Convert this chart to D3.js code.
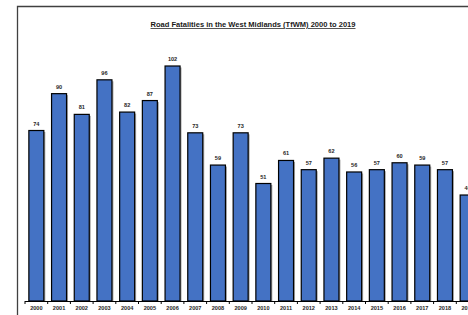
<!DOCTYPE html>
<html>
<head>
<meta charset="utf-8">
<script src="https://cdn.jsdelivr.net/npm/d3@7"></script>
<style>
  body { margin: 0; background: #fff; }
  svg { display: block; font-family: "Liberation Sans", Arial, sans-serif; }
</style>
</head>
<body>
<div id="chart"></div>
<script>
var svgWidth = 468;
var svgHeight = 315;

// Chart data
var years = ["2000", "2001", "2002", "2003", "2004", "2005", "2006", "2007", "2008", "2009",
             "2010", "2011", "2012", "2013", "2014", "2015", "2016", "2017", "2018", "2019"];
var fatalities = [74, 90, 81, 96, 82, 87, 102, 73, 59, 73, 51, 61, 57, 62, 56, 57, 60, 59, 57, 46];

var chartTitle = "Road Fatalities in the West Midlands (TfWM) 2000 to 2019";

// plot area (runs off the right edge like the reference)
var plotLeft = 25;
var plotRight = 25 + 22.7 * years.length;
var baseY = 301;

var svg = d3.select("#chart")
  .append("svg")
  .attr("width", svgWidth)
  .attr("height", svgHeight);

// Chart border (only left and top visible)
svg.append("path")
  .attr("d", "M17.5,330 L17.5,6.5 L480,6.5")
  .attr("fill", "none")
  .attr("stroke", "#404040")
  .attr("stroke-width", 1.3);

// Title
svg.append("text")
  .attr("x", 253)
  .attr("y", 27)
  .attr("text-anchor", "middle")
  .attr("font-size", "7.4px")
  .attr("font-weight", "bold")
  .attr("text-decoration", "underline")
  .attr("textLength", 205)
  .attr("lengthAdjust", "spacingAndGlyphs")
  .attr("fill", "#1a1a1a")
  .text(chartTitle);

var x = d3.scaleBand()
  .domain(years)
  .range([plotLeft, plotRight])
  .paddingInner(0.34)
  .paddingOuter(0.17);

var y = d3.scaleLinear()
  .domain([0, 102])
  .range([baseY, baseY - 235]);

var data = years.map(function(yr, i) {
  return { year: yr, value: fatalities[i] };
});

// bar shadows
svg.append("g")
  .selectAll("rect")
  .data(data)
  .enter()
  .append("rect")
  .attr("x", function(d) { return x(d.year) + 1.5; })
  .attr("y", function(d) { return y(d.value) + 1.5; })
  .attr("width", x.bandwidth())
  .attr("height", function(d) { return baseY - y(d.value) - 1.5; })
  .attr("fill", "#a6a6a6");

// bars
svg.append("g")
  .selectAll("rect")
  .data(data)
  .enter()
  .append("rect")
  .attr("x", function(d) { return x(d.year); })
  .attr("y", function(d) { return y(d.value); })
  .attr("width", x.bandwidth())
  .attr("height", function(d) { return baseY - y(d.value); })
  .attr("fill", "#4472c4")
  .attr("stroke", "#000")
  .attr("stroke-width", 1.2);

// value labels
svg.append("g")
  .selectAll("text")
  .data(data)
  .enter()
  .append("text")
  .attr("x", function(d) { return x(d.year) + x.bandwidth() / 2; })
  .attr("y", function(d) { return y(d.value) - 5; })
  .attr("text-anchor", "middle")
  .attr("font-size", "5.6px")
  .attr("font-weight", "bold")
  .attr("fill", "#262626")
  .text(function(d) { return d.value; });

// x axis
var bottomAxis = d3.axisBottom(x).tickSize(0).tickPadding(5.5);
var xAxis = svg.append("g")
  .attr("transform", `translate(0, ${baseY})`)
  .call(bottomAxis);

xAxis.select(".domain")
  .attr("d", `M${plotLeft},0.5H${plotRight}`)
  .attr("stroke", "#000")
  .attr("stroke-width", 1.2);

xAxis.selectAll("text")
  .attr("font-size", "5.6px")
  .attr("font-weight", "bold")
  .attr("font-family", "Liberation Sans, Arial, sans-serif")
  .attr("fill", "#262626");

// tick marks at band boundaries
var step = x.step();
svg.append("g")
  .selectAll("line")
  .data(d3.range(years.length + 1))
  .enter()
  .append("line")
  .attr("x1", function(i) { return plotLeft + i * step; })
  .attr("x2", function(i) { return plotLeft + i * step; })
  .attr("y1", baseY)
  .attr("y2", baseY + 3)
  .attr("stroke", "#000")
  .attr("stroke-width", 1);
</script>
</body>
</html>
